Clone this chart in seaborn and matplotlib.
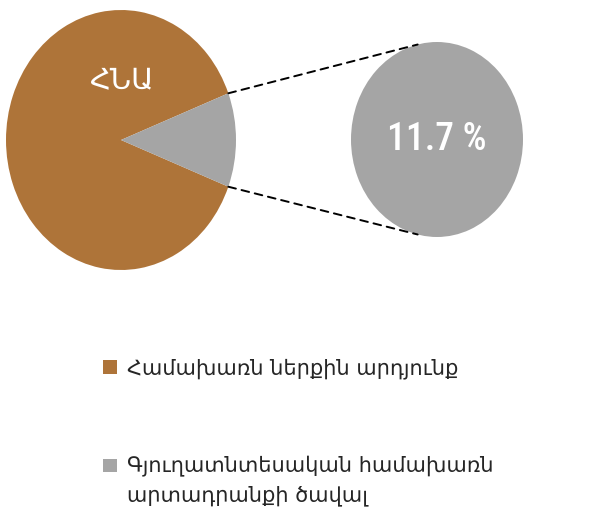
import numpy as np
import matplotlib
matplotlib.use('Agg')
import matplotlib.pyplot as plt
import seaborn as sns
from matplotlib.patches import ConnectionPatch
from matplotlib import font_manager

# data
labels = ['Համախառն ներքին արդյունք', 'Գյուղատնտեսական համախառն\nարտադրանքի ծավալ']
shares = [88.3, 11.7]
pie_title = 'ՀՆԱ'
colors = ['#AE7439', '#A5A5A5']

sns.set_theme(style='white')
plt.rcParams['font.family'] = ['DejaVu Sans']

installed = {f.name for f in font_manager.fontManager.ttflist}
narrow = [n for n in ['Liberation Sans Narrow', 'DejaVu Sans Condensed',
                      'Roboto Condensed', 'Open Sans Condensed'] if n in installed]

W, H = 590, 511
fig = plt.figure(figsize=(W / 100, H / 100), dpi=100)
fig.patch.set_facecolor('white')


def px_axes(x0, y0, x1, y1):
    return fig.add_axes([x0 / W, 1 - y1 / H, (x1 - x0) / W, (y1 - y0) / H])


# main pie, small slice centred on the right
half = shares[1] / sum(shares) * 180
ax_pie = px_axes(6, 10, 236, 270)
wedges, _ = ax_pie.pie(shares, colors=colors, startangle=half,
                       wedgeprops=dict(linewidth=0))
ax_pie.set_aspect('auto')
ax_pie.set_xlim(-1, 1)
ax_pie.set_ylim(-1, 1)
ax_pie.text(0, 0.45, pie_title, color='white', fontsize=21,
            ha='center', va='center')

# zoomed circle for the small slice
ax_zoom = px_axes(351, 42, 523, 237)
ax_zoom.pie([shares[1]], colors=[colors[1]], wedgeprops=dict(linewidth=0))
ax_zoom.set_aspect('auto')
ax_zoom.set_xlim(-1, 1)
ax_zoom.set_ylim(-1, 1)
ax_zoom.text(0, 0.0, f'{shares[1]} %', color='white', fontsize=27,
             fontweight='medium', ha='center', va='center',
             family=narrow[:1] + ['DejaVu Sans'])

# dashed connectors
a = np.deg2rad(half)
b = np.deg2rad(103)
for s in (1, -1):
    con = ConnectionPatch(xyA=(np.cos(a), s * np.sin(a)), coordsA=ax_pie.transData,
                          xyB=(np.cos(b), s * np.sin(b)), coordsB=ax_zoom.transData,
                          color='black', linewidth=1.4, linestyle=(0, (4, 3)))
    fig.add_artist(con)

# legend
leg = fig.legend(wedges, labels, loc='upper left',
                 bbox_to_anchor=(103 / W, 1 - 358 / H), frameon=False,
                 fontsize=15, handlelength=0.65, handleheight=0.65,
                 handletextpad=0.5, labelspacing=3.65, borderpad=0,
                 borderaxespad=0)
leg.get_texts()[1].set_linespacing(1.6)
h2 = leg.legend_handles[1]
h2.set_y(h2.get_y() + 11.2)

fig.savefig('out.png', dpi=100)
